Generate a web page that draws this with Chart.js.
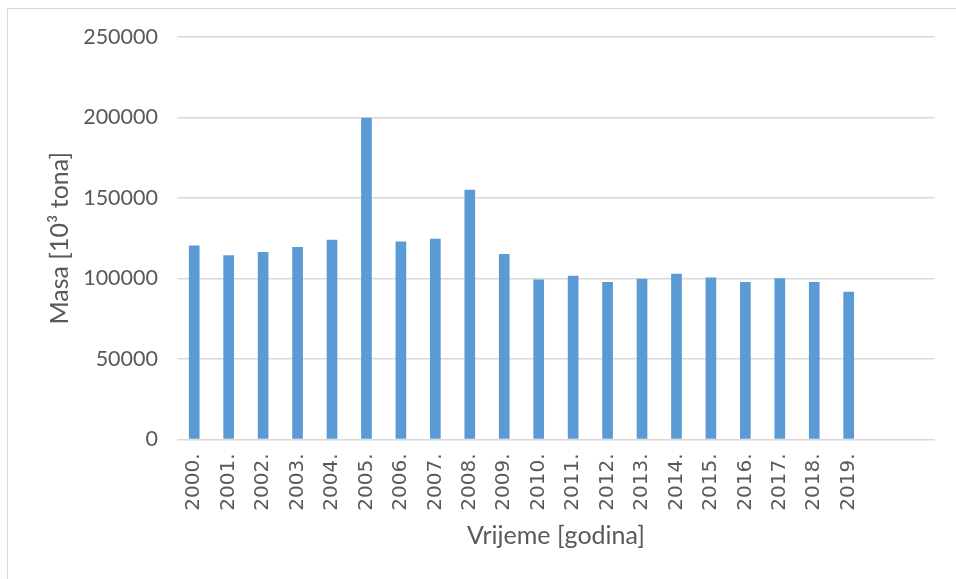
<!DOCTYPE html>
<html>
<head>
<meta charset="utf-8">
<script src="https://cdn.jsdelivr.net/npm/chart.js@4/dist/chart.umd.min.js"></script>
<style>
  html, body { margin: 0; padding: 0; background: #fff; overflow: hidden; }
  .frame { position: absolute; left: 7px; top: 8px; width: 1000px; height: 700px; border: 1px solid #d9d9d9; }
  .wrap { position: absolute; left: 0; top: 0; width: 956px; height: 579px; }
</style>
</head>
<body>
<div class="frame"></div>
<div class="wrap"><canvas id="chart"></canvas></div>
<script>
// years (two empty slots at the end, as in the original sheet)
const years = ['2000.', '2001.', '2002.', '2003.', '2004.', '2005.', '2006.', '2007.', '2008.', '2009.',
  '2010.', '2011.', '2012.', '2013.', '2014.', '2015.', '2016.', '2017.', '2018.', '2019.', '', ''];

// masa [10^3 tona]
const masa = [120500, 114500, 116400, 119500, 124000, 199800, 123000, 124700, 155200, 115200,
  99400, 101700, 97800, 99800, 102900, 100600, 97800, 100200, 97800, 91700, null, null];

const yTicks = [0, 50000, 100000, 150000, 200000, 250000];

const textColor = '#595959';
const gridColor = '#d9d9d9';

new Chart(document.getElementById('chart'), {
  type: 'bar',
  data: {
    labels: years,
    datasets: [{
      data: masa,
      backgroundColor: '#5b9bd5',
      borderWidth: 0,
      barPercentage: 0.31,
      categoryPercentage: 1
    }]
  },
  options: {
    responsive: true, maintainAspectRatio: false,
    animation: false,
    layout: { padding: { top: 37, right: 18, left: 0, bottom: 0 } },
    plugins: { legend: { display: false }, tooltip: { enabled: false } },
    scales: {
      x: {
        grid: { display: false, drawTicks: false },
        border: { display: false },
        ticks: {
          color: textColor, autoSkip: false, minRotation: 90, maxRotation: 90, padding: 14,
          font: { family: 'DejaVu Sans', size: 20 }
        },
        title: {
          display: true, text: 'Vrijeme [godina]', color: textColor,
          font: { family: 'Lato', size: 25 }, padding: { top: 0, bottom: 28 }
        },
        afterFit: s => { s.height = 139.5; }
      },
      y: {
        min: 0, max: 250000,
        afterBuildTicks: s => { s.ticks = yTicks.map(v => ({ value: v })); },
        grid: { color: gridColor, lineWidth: 1.5, drawTicks: false },
        border: { display: false },
        ticks: {
          color: textColor, padding: 19,
          font: { family: 'Lato', size: 21.5 },
          callback: v => String(v)
        },
        title: {
          display: true, text: 'Masa [10³ tona]', color: textColor,
          font: { family: 'Lato', size: 25 }, padding: { top: 45, bottom: 0 }
        },
        afterFit: s => { s.width = 177; }
      }
    }
  }
});
</script>
</body>
</html>
